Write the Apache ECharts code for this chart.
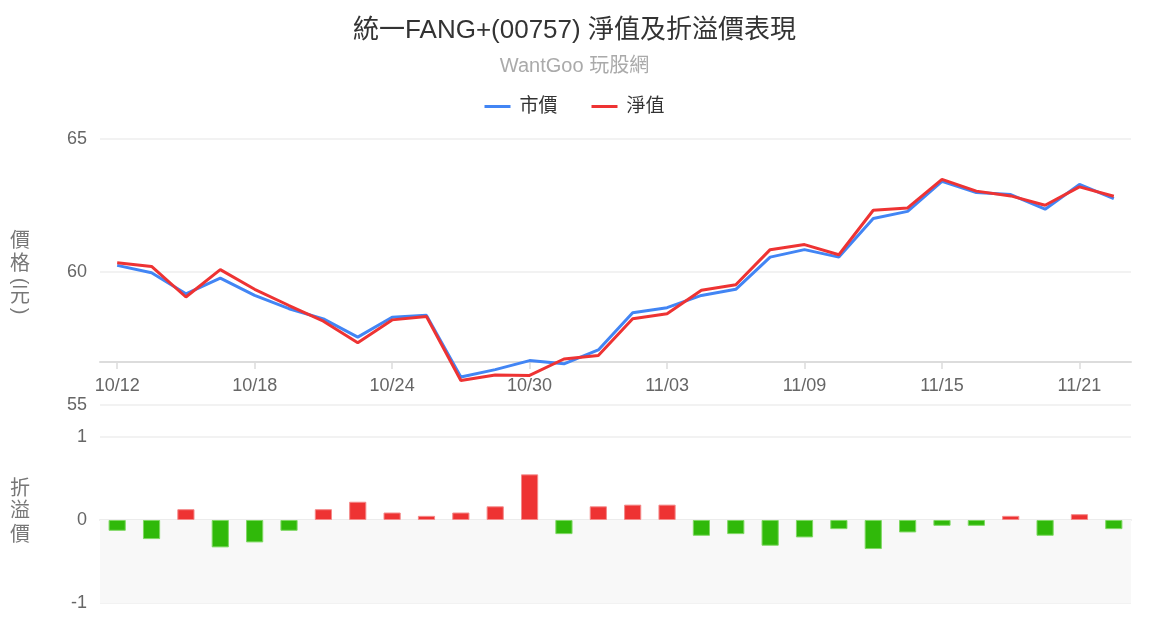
<!DOCTYPE html>
<html>
<head>
<meta charset="utf-8">
<script src="https://cdn.jsdelivr.net/npm/echarts@6/dist/echarts.min.js"></script>
<style>
html,body{margin:0;padding:0;background:#fff;}
#chart{width:1149px;height:625px;}
</style>
</head>
<body>
<div id="chart"></div>
<script>
const dates = ["10/12","10/13","10/16","10/17","10/18","10/19","10/20","10/23","10/24","10/25",
  "10/26","10/27","10/30","10/31","11/01","11/02","11/03","11/06","11/07","11/08",
  "11/09","11/10","11/13","11/14","11/15","11/16","11/17","11/20","11/21","11/22"];
const marketPrice = [60.25,59.97,59.18,59.77,59.12,58.62,58.24,57.55,58.30,58.37,
  56.05,56.33,56.67,56.55,57.07,58.47,58.66,59.12,59.35,60.56,
  60.84,60.56,62.01,62.28,63.41,62.99,62.91,62.36,63.29,62.76];
const navPrice = [60.35,60.21,59.06,60.09,59.35,58.74,58.15,57.34,58.20,58.33,
  55.92,56.13,56.11,56.73,56.86,58.24,58.43,59.31,59.52,60.84,
  61.03,60.65,62.32,62.41,63.48,63.04,62.86,62.51,63.20,62.85];
const premium = [-0.13,-0.23,0.13,-0.33,-0.27,-0.13,0.13,0.22,0.09,0.05,
  0.09,0.165,0.55,-0.17,0.165,0.185,0.185,-0.19,-0.17,-0.31,
  -0.21,-0.11,-0.35,-0.15,-0.07,-0.07,0.05,-0.19,0.07,-0.11];
const priceTicks = {min: 55, max: 65, interval: 5};
const premiumTicks = {min: -1, max: 1, interval: 1};
const priceAxisName = ['價', '格', '(', '元', ')'];
const premiumAxisName = ['折', '溢', '價'];

const FONT = '"Liberation Sans", Arial, "Noto Sans CJK TC", sans-serif';
const BLUE = '#4285f4';
const RED = '#ee3333';
const GREEN = '#30b90a';
const NAME_COLOR = '#777';

const chart = echarts.init(document.getElementById('chart'));
const barData = premium.map(v => ({
  value: v,
  itemStyle: v >= 0
    ? {color: RED, borderColor: '#f48a8a', borderWidth: 1}
    : {color: GREEN, borderColor: '#7fd863', borderWidth: 1}
}));

// vertical axis names (parentheses turned as in vertical writing)
function verticalName(chars, ys) {
  return chars.map((ch, i) => {
    const isParen = ch === '(' || ch === ')';
    return {
      type: 'text',
      x: 20, y: ys[i],
      rotation: isParen ? -Math.PI / 2 : 0,
      style: {
        text: ch,
        font: '20px ' + FONT,
        fill: NAME_COLOR,
        align: 'center',
        verticalAlign: 'middle'
      },
      silent: true
    };
  });
}
const nameGraphics = verticalName(priceAxisName, [241, 264, 281, 296, 311])
  .concat(verticalName(premiumAxisName, [489, 511, 535]));

chart.setOption({
  animation: false,
  textStyle: {fontFamily: FONT},
  title: {
    text: '統一FANG+(00757) 淨值及折溢價表現',
    subtext: 'WantGoo 玩股網',
    left: 'center',
    top: 13,
    itemGap: 12,
    textStyle: {fontSize: 26, fontWeight: 'normal', color: '#333', fontFamily: FONT},
    subtextStyle: {fontSize: 20, color: '#aaa', fontFamily: FONT}
  },
  legend: {
    data: ['市價', '淨值'],
    top: 92,
    left: 'center',
    icon: 'rect',
    itemWidth: 26,
    itemHeight: 3,
    itemGap: 34,
    textStyle: {fontSize: 19, color: '#333', fontFamily: FONT, padding: [0, 0, 0, 4]}
  },
  graphic: nameGraphics,
  grid: [
    {left: 100, right: 18, top: 139, bottom: 220},
    {left: 100, right: 18, top: 437, bottom: 22}
  ],
  xAxis: [
    {
      type: 'category', gridIndex: 0, data: dates, boundaryGap: true,
      position: 'bottom', offset: -43,
      axisLine: {show: true, onZero: false, lineStyle: {color: '#dcdcdc', width: 2}},
      axisTick: {show: true, interval: 3, alignWithLabel: true, length: 7, lineStyle: {color: '#dcdcdc', width: 1.5}},
      axisLabel: {interval: 3, fontSize: 18, color: '#666', margin: 15, fontFamily: FONT},
      splitLine: {show: false}
    },
    {
      type: 'category', gridIndex: 1, data: dates, boundaryGap: true,
      axisLine: {show: true, onZero: true, lineStyle: {color: '#ececec', width: 2}},
      axisTick: {show: false},
      axisLabel: {show: false},
      splitLine: {show: false}
    }
  ],
  yAxis: [
    {
      type: 'value', gridIndex: 0,
      min: priceTicks.min, max: priceTicks.max, interval: priceTicks.interval,
      axisLine: {show: false}, axisTick: {show: false},
      axisLabel: {fontSize: 18, color: '#666', margin: 13, fontFamily: FONT},
      splitLine: {lineStyle: {color: '#eeeeee', width: 1.5}}
    },
    {
      type: 'value', gridIndex: 1,
      min: premiumTicks.min, max: premiumTicks.max, interval: premiumTicks.interval,
      axisLine: {show: false}, axisTick: {show: false},
      axisLabel: {fontSize: 18, color: '#666', margin: 13, fontFamily: FONT},
      splitLine: {lineStyle: {color: '#eeeeee', width: 1.5}}
    }
  ],
  series: [
    {
      name: '市價', type: 'line', xAxisIndex: 0, yAxisIndex: 0,
      data: marketPrice, symbol: 'none', color: BLUE,
      lineStyle: {width: 3, color: BLUE}
    },
    {
      name: '淨值', type: 'line', xAxisIndex: 0, yAxisIndex: 0,
      data: navPrice, symbol: 'none', color: RED,
      lineStyle: {width: 3, color: RED}
    },
    {
      name: '折溢價', type: 'bar', xAxisIndex: 1, yAxisIndex: 1,
      data: barData, barWidth: '50%',
      markArea: {
        silent: true,
        itemStyle: {color: '#f8f8f8'},
        data: [[{yAxis: -1}, {yAxis: 0}]]
      }
    }
  ]
});
</script>
</body>
</html>
